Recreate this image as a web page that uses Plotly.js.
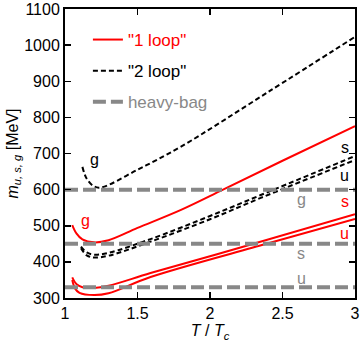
<!DOCTYPE html>
<html>
<head>
<meta charset="utf-8">
<script src="https://cdn.plot.ly/plotly-3.0.1.min.js"></script>
<style>
  html, body { margin: 0; padding: 0; background: #fff; }
  #chart { width: 362px; height: 349px; }
</style>
</head>
<body>
<div id="chart"></div>
<script>
// T / Tc sample points and masses [MeV]
const oneLoopGT = [1.05, 1.08, 1.12, 1.2, 1.3, 1.5, 1.8, 2.09, 2.5, 3.0];
const oneLoopG  = [502, 478, 462, 454, 460, 494, 544, 600, 680, 776];
const oneLoopST = [1.05, 1.08, 1.12, 1.2, 1.3, 1.59, 2.3, 3.0];
const oneLoopS  = [357, 338, 330, 328, 334, 369, 450, 532];
const oneLoopUT = [1.05, 1.07, 1.1, 1.2, 1.3, 1.59, 2.39, 3.0];
const oneLoopU  = [350, 326, 314, 308, 313, 358, 450, 519];

const twoLoopGT = [1.12, 1.15, 1.2, 1.25, 1.5, 1.8, 2.4, 3.0];
const twoLoopG  = [663, 630, 609, 606, 655, 719, 870, 1023];
const twoLoopST = [1.11, 1.15, 1.2, 1.3, 1.59, 2.0, 2.35, 3.0];
const twoLoopS  = [442, 426, 420, 425, 463, 527, 585, 693];
const twoLoopUT = [1.11, 1.15, 1.2, 1.3, 1.59, 2.0, 2.35, 3.0];
const twoLoopU  = [438, 418, 412, 417, 456, 518, 577, 682];

const heavyBagLevels = [600, 450, 330];   // g, s, u
const tRange = [1, 3];

const xTicks = [1, 1.5, 2, 2.5, 3];
const yTicks = [300, 400, 500, 600, 700, 800, 900, 1000, 1100];

const RED = '#ff0000';
const GRAY = '#888888';

function curve(x, y, color, dash, name, group, show) {
  return {
    x: x, y: y, type: 'scatter', mode: 'lines',
    line: { color: color, width: 2, dash: dash, shape: 'spline', smoothing: 1 },
    name: name, legendgroup: group, showlegend: show, hoverinfo: 'skip'
  };
}

const traces = [
  curve(oneLoopGT, oneLoopG, RED, 'solid', '<span style="color:#ff0000">"1 loop"</span>', 'one', true),
  curve(oneLoopST, oneLoopS, RED, 'solid', 's', 'one', false),
  curve(oneLoopUT, oneLoopU, RED, 'solid', 'u', 'one', false),
  curve(twoLoopGT, twoLoopG, '#000', '5px,3px', '"2 loop"', 'two', true),
  curve(twoLoopST, twoLoopS, '#000', '5px,3px', 's', 'two', false),
  curve(twoLoopUT, twoLoopU, '#000', '5px,3px', 'u', 'two', false)
];

heavyBagLevels.forEach((m, i) => {
  traces.push({
    x: tRange, y: [m, m], type: 'scatter', mode: 'lines',
    line: { color: GRAY, width: 4, dash: '13px,5px' },
    name: '<span style="color:#888888">heavy-bag</span>',
    legendgroup: 'bag', showlegend: i === 0, hoverinfo: 'skip'
  });
});

function label(x, y, text, color) {
  return {
    x: x, y: y, xref: 'x', yref: 'y', text: text, showarrow: false,
    font: { size: 16, color: color }
  };
}

const annotations = [
  label(1.2, 683, 'g', '#000'),
  label(1.14, 514, 'g', RED),
  label(2.93, 717, 's', '#000'),
  label(2.93, 638, 'u', '#000'),
  label(2.93, 566, 's', RED),
  label(2.93, 478, 'u', RED),
  label(2.63, 573, 'g', GRAY),
  label(2.63, 423, 's', GRAY),
  label(2.63, 354, 'u', GRAY)
];

const axisCommon = {
  showgrid: false, zeroline: false, showline: true, linecolor: '#000', linewidth: 2,
  mirror: 'ticks', ticks: 'inside', ticklen: 6, tickwidth: 1.5, tickcolor: '#000',
  tickfont: { size: 16, color: '#000' }
};

const layout = {
  width: 362, height: 349,
  margin: { l: 65, r: 7, t: 9, b: 51 },
  paper_bgcolor: '#fff', plot_bgcolor: '#fff',
  font: { family: 'Liberation Sans, Arial, sans-serif', color: '#000' },
  xaxis: Object.assign({}, axisCommon, {
    range: tRange, tickvals: xTicks, ticktext: ['1', '1.5', '2', '2.5', '3'],
    title: { text: '<i>T</i> / <i>T</i><sub><i>c</i></sub>', font: { size: 16 }, standoff: 4 }
  }),
  yaxis: Object.assign({}, axisCommon, {
    range: [300, 1100], tickvals: yTicks,
    title: { text: '<i>m</i><sub><i>u, s, g</i></sub> [MeV]', font: { size: 16 }, standoff: 2 }
  }),
  showlegend: true,
  legend: {
    x: 0.079, y: 0.955, xanchor: 'left', yanchor: 'top',
    bgcolor: 'rgba(0,0,0,0)', font: { size: 17 }, tracegroupgap: 6,
    itemwidth: 30
  },
  annotations: annotations
};

Plotly.newPlot('chart', traces, layout, { displayModeBar: false, staticPlot: true });
</script>
</body>
</html>
